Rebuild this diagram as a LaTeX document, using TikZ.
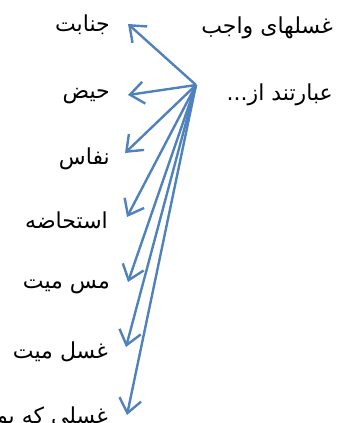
\documentclass[tikz,border=0pt]{standalone}
\usepackage{fontspec}
\newfontfamily\arabicfont[Script=Arabic]{DejaVu Sans}
\TeXXeTstate=1
\usetikzlibrary{arrows.meta}
\definecolor{ghusl}{RGB}{79,129,189}
\tikzset{
  farsi/.style={anchor=east, inner sep=0pt, font=\arabicfont\fontsize{22}{26}\selectfont},
  barb/.style={draw=ghusl, line width=2.4pt, -{Straight Barb[length=14pt,width=22pt]}}
}
\begin{document}
\begin{tikzpicture}[x=1pt,y=-1pt]
        \useasboundingbox (0,0) rectangle (345,423);

        % title
        \draw (333,28) node[farsi] (title) {\beginR غسلهای واجب\endR};
        \draw (333,95) node[farsi] (title2) {\beginR عبارتند از...\endR};

        % kinds
        \draw (110,25) node[farsi] (janabat) {\beginR جنابت\endR};
        \draw (110,96) node[farsi] (heyz) {\beginR حیض\endR};
        \draw (110,159) node[farsi] (nefas) {\beginR نفاس\endR};
        \draw (108,220) node[farsi] (estehazeh) {\beginR استحاضه\endR};
        \draw (110,287) node[farsi] (masmayyet) {\beginR مس میت\endR};
        \draw (108,352) node[farsi] (ghuslmayyet) {\beginR غسل میت\endR};
        \draw (108,418) node[farsi] (ghuslnazr) {\beginR غسلی که بو\endR};

        % arrows
        \coordinate (src) at (196,85);
        \coordinate (t1) at (128,24);
        \coordinate (t2) at (128,95);
        \coordinate (t3) at (125,153);
        \coordinate (t4) at (127,217);
        \coordinate (t5) at (128,282);
        \coordinate (t6) at (126,347);
        \coordinate (t7) at (127,415);
        \foreach \t in {t1,t2,t3,t4,t5,t6,t7}
          \draw[barb] (src) -- (\t);

      \end{tikzpicture}
\end{document}
